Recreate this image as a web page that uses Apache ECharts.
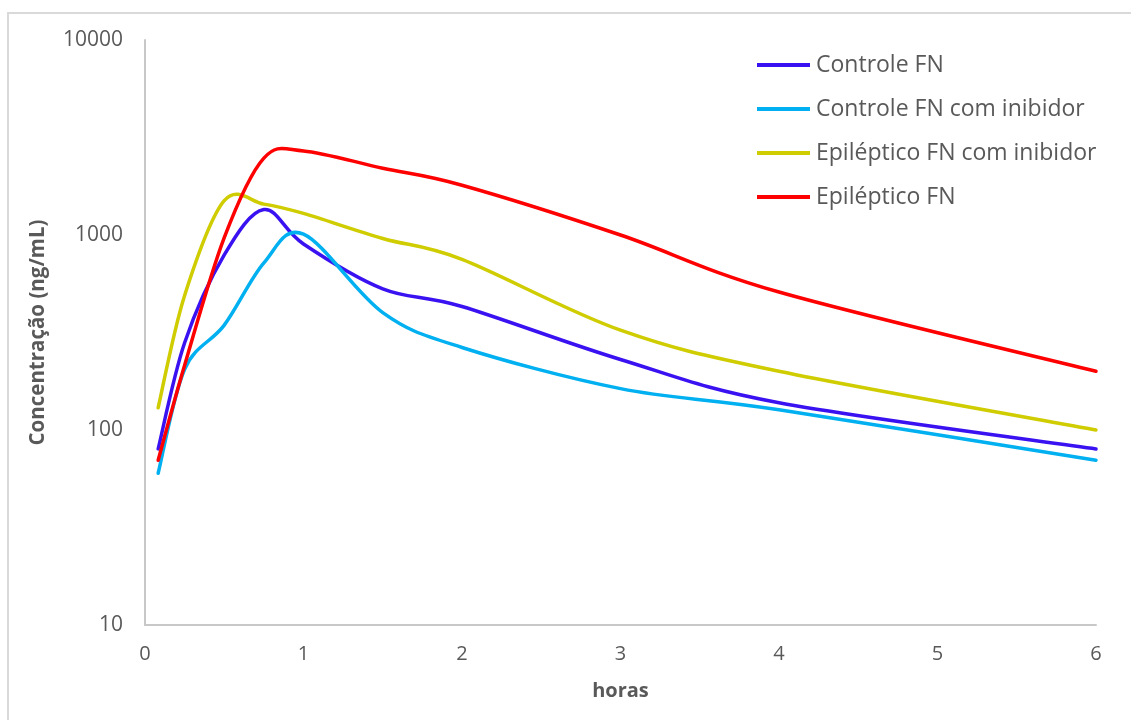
<!DOCTYPE html>
<html>
<head>
<meta charset="utf-8">
<script src="https://cdn.jsdelivr.net/npm/echarts@6/dist/echarts.min.js"></script>
<style>
html,body{margin:0;padding:0;background:#fff;}
#chart{width:1131px;height:720px;}
</style>
</head>
<body>
<div id="chart"></div>
<script>
const hours = [0.083, 0.25, 0.5, 0.75, 1, 1.5, 2, 3, 4, 6];
const controleFN = [80, 280, 790, 1350, 900, 530, 430, 230, 138, 80];
const controleFNInibidor = [60, 205, 345, 720, 1010, 400, 265, 163, 127, 70];
const epilepticoFNInibidor = [130, 490, 1500, 1440, 1290, 960, 750, 325, 200, 100];
const epilepticoFN = [70, 215, 970, 2480, 2700, 2200, 1800, 1000, 510, 200];
const seriesNames = ['Controle FN', 'Controle FN com inibidor', 'Epiléptico FN com inibidor', 'Epiléptico FN'];
const seriesColors = ['#3A12F2', '#00B0F0', '#CFCC00', '#FF0000'];
const xTicks = [0, 1, 2, 3, 4, 5, 6];
const yTicks = [10, 100, 1000, 10000];

const allData = [controleFN, controleFNInibidor, epilepticoFNInibidor, epilepticoFN];
const font = '"Open Sans", "Liberation Sans", sans-serif';

// Excel-like smoothed line (Catmull-Rom Bezier in pixel space), positions from the axes via api.coord
function makeRenderer(vals, color) {
  return function (params, api) {
    if (params.dataIndex !== 0) return null;
    const pts = hours.map((h, j) => api.coord([h, vals[j]]));
    const n = pts.length;
    let d = 'M' + pts[0][0] + ' ' + pts[0][1];
    for (let i = 0; i < n - 1; i++) {
      const p0 = pts[i - 1] || pts[i];
      const p1 = pts[i];
      const p2 = pts[i + 1];
      const p3 = pts[i + 2] || pts[i + 1];
      const c1x = p1[0] + (p2[0] - p0[0]) / 6, c1y = p1[1] + (p2[1] - p0[1]) / 6;
      const c2x = p2[0] - (p3[0] - p1[0]) / 6, c2y = p2[1] - (p3[1] - p1[1]) / 6;
      d += ' C' + c1x + ' ' + c1y + ' ' + c2x + ' ' + c2y + ' ' + p2[0] + ' ' + p2[1];
    }
    return {
      type: 'path',
      shape: {pathData: d},
      style: {fill: 'none', stroke: color, lineWidth: 3.5, lineCap: 'round', lineJoin: 'round'}
    };
  };
}

const chart = echarts.init(document.getElementById('chart'));
chart.setOption({
  animation: false,
  backgroundColor: '#fff',
  graphic: [{
    type: 'rect',
    shape: {x: 8, y: 13, width: 1200, height: 800},
    style: {fill: 'none', stroke: '#D9D9D9', lineWidth: 2},
    silent: true
  }],
  grid: {left: 145, right: 35, top: 40, bottom: 95},
  legend: {
    orient: 'vertical',
    left: 757,
    top: 52,
    padding: 0,
    icon: 'rect',
    itemWidth: 53,
    itemHeight: 4,
    itemGap: 18,
    textStyle: {fontFamily: font, fontSize: 23, color: '#595959', lineHeight: 26, padding: [0,0,0,1]},
    data: seriesNames
  },
  xAxis: {
    type: 'value',
    min: 0, max: 6, interval: 1,
    name: 'horas',
    nameLocation: 'middle',
    nameGap: 56,
    nameTextStyle: {fontFamily: font, fontSize: 20, fontWeight: 'bold', color: '#595959'},
    axisLine: {show: true, lineStyle: {color: '#C8C8C8', width: 2}},
    axisTick: {show: false},
    splitLine: {show: false},
    axisLabel: {fontFamily: font, fontSize: 20, color: '#595959', margin: 19,
      formatter: v => xTicks.includes(v) ? String(v) : ''}
  },
  yAxis: {
    type: 'log',
    logBase: 10,
    min: yTicks[0], max: yTicks[yTicks.length - 1],
    name: 'Concentração (ng/mL)',
    nameLocation: 'middle',
    nameGap: 96,
    nameRotate: 90,
    nameTextStyle: {fontFamily: font, fontSize: 20.5, fontWeight: 'bold', color: '#595959'},
    axisLine: {show: true, lineStyle: {color: '#C8C8C8', width: 2}},
    axisTick: {show: false},
    splitLine: {show: false},
    axisLabel: {fontFamily: font, fontSize: 21, color: '#595959', margin: 22,
      formatter: v => String(Math.round(v))}
  },
  series: seriesNames.map((n, i) => ({
    name: n,
    type: 'custom',
    renderItem: makeRenderer(allData[i], seriesColors[i]),
    data: hours.map((h, j) => [h, allData[i][j]]),
    encode: {x: 0, y: 1},
    itemStyle: {color: seriesColors[i]}
  }))
});
</script>
</body>
</html>
